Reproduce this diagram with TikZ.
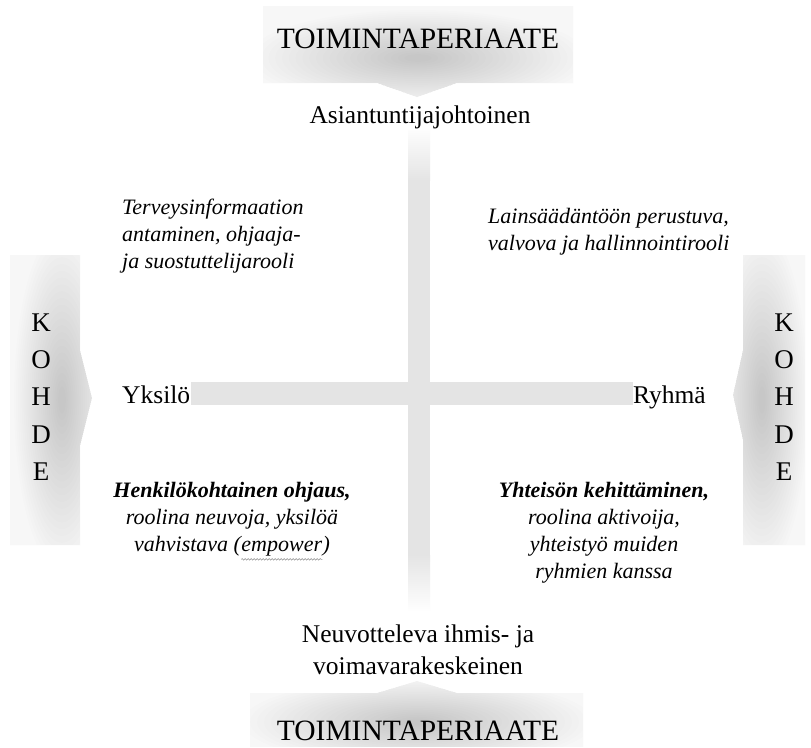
\documentclass[tikz,border=0pt]{standalone}
\usepackage{fontspec}
\setmainfont{Liberation Serif}
\usetikzlibrary{decorations.pathmorphing}

\definecolor{barc}{gray}{0.895}

% word with a thin grey wavy underline (spell-check style)
\newcommand\wavyword[1]{\tikz[baseline=(ww.base)]{%
  \node[inner sep=0pt] (ww) {#1};
  \draw[black!45, line width=0.5pt, decorate,
        decoration={snake, amplitude=0.8pt, segment length=3pt}]
    ([yshift=-3pt]ww.south west) -- ([yshift=-3pt]ww.south east);}}

% soft grey glow: many stacked translucent ellipses around a centre
% #1 = centre, #2/#3 = largest x/y radius (pt)
\newcommand\softglow[3]{%
  \foreach \k in {0,...,23}{%
    \pgfmathsetmacro\rx{#2*(1-0.04*\k)}%
    \pgfmathsetmacro\ry{#3*(1-0.04*\k)}%
    \fill[black, opacity=0.0068] #1 ellipse [x radius=\rx pt, y radius=\ry pt];}}

\begin{document}
\begin{tikzpicture}[x=1pt,y=-1pt,
  headtxt/.style={inner sep=0pt, font=\fontsize{29.5}{34}\selectfont},
  axistxt/.style={inner sep=0pt, font=\fontsize{25.5}{32}\selectfont},
  sidetxt/.style={inner sep=0pt, align=center, font=\fontsize{27}{37.25}\selectfont},
  quadtxt/.style={inner sep=0pt, font=\fontsize{22}{27}\selectfont\itshape},
  arrowbase/.style={fill=black!3},
  whitebox/.style={fill=white, text height=21pt, text depth=2pt}
]
\useasboundingbox (0,0) rectangle (811,747);
\fill[white] (0,0) rectangle (811,747);

% soft block arrows behind the four outer labels
\begin{scope}
  \clip (263,6) -- (573,6) -- (573,83) -- (457,83) -- (417,97)
    -- (377,83) -- (263,83) -- cycle;
  \fill[arrowbase] (250,0) rectangle (590,100);
  \softglow{(418,58)}{170}{48}
\end{scope}
\begin{scope}
  \clip (250,747) -- (583,747) -- (583,693) -- (457,693) -- (417,681)
    -- (377,693) -- (250,693) -- cycle;
  \fill[arrowbase] (240,675) rectangle (590,747);
  \softglow{(418,722)}{175}{44}
\end{scope}
\begin{scope}
  \clip (10,255) -- (80,255) -- (80,350) -- (92,398) -- (80,446)
    -- (80,545) -- (10,545) -- cycle;
  \fill[arrowbase] (0,250) rectangle (100,550);
  \softglow{(62,400)}{48}{170}
\end{scope}
\begin{scope}
  \clip (805,255) -- (743,255) -- (743,350) -- (733,395) -- (743,440)
    -- (743,545) -- (805,545) -- cycle;
  \fill[arrowbase] (725,250) rectangle (811,550);
  \softglow{(762,400)}{46}{170}
\end{scope}

% the cross dividing the four quadrants
\shade[top color=white, bottom color=barc] (408,125) rectangle (430,180);
\fill[barc] (408,180) rectangle (430,555);
\shade[top color=barc, bottom color=white] (408,555) rectangle (430,612);
\fill[barc] (125,382) rectangle (720,405);

% labels
\node[headtxt, anchor=base] (topprinciple) at (418,48) {TOIMINTAPERIAATE};
\node[headtxt, anchor=base] (botprinciple) at (418,740) {TOIMINTAPERIAATE};
\node[axistxt, anchor=base, fill=white, inner xsep=4pt, inner ysep=2pt] (expert) at (420,123) {Asiantuntijajohtoinen};
\node[axistxt, align=center, fill=white, inner xsep=4pt, inner ysep=2pt] (dialog) at (418,650)
  {Neuvotteleva ihmis- ja\\voimavarakeskeinen};
\node[sidetxt] (leftside) at (41,397) {K\\O\\H\\D\\E};
\node[sidetxt] (rightside) at (784,397) {K\\O\\H\\D\\E};
\node[axistxt, whitebox, anchor=base west, inner xsep=0pt] (person) at (122,403) {Yksilö\hspace*{1pt}};
\node[axistxt, whitebox, anchor=base east, inner xsep=0pt] (group) at (720,403) {Ryhmä\hspace*{14pt}};

% quadrant texts
\node[quadtxt, align=left, anchor=north west] (qul) at (122,199)
  {Terveysinformaation\\antaminen, ohjaaja-\\ja suostuttelijarooli};
\node[quadtxt, align=left, anchor=north west] (qur) at (488,208)
  {Lainsäädäntöön perustuva,\\valvova ja hallinnointirooli};
\node[quadtxt, align=center, anchor=north] (qll) at (232,482)
  {\textbf{Henkilökohtainen ohjaus,}\\roolina neuvoja, yksilöä\\vahvistava (\wavyword{empower})};
\node[quadtxt, align=center, anchor=north] (qlr) at (604,482)
  {\textbf{Yhteisön kehittäminen,}\\roolina aktivoija,\\yhteistyö muiden\\ryhmien kanssa};
\end{tikzpicture}
\end{document}
